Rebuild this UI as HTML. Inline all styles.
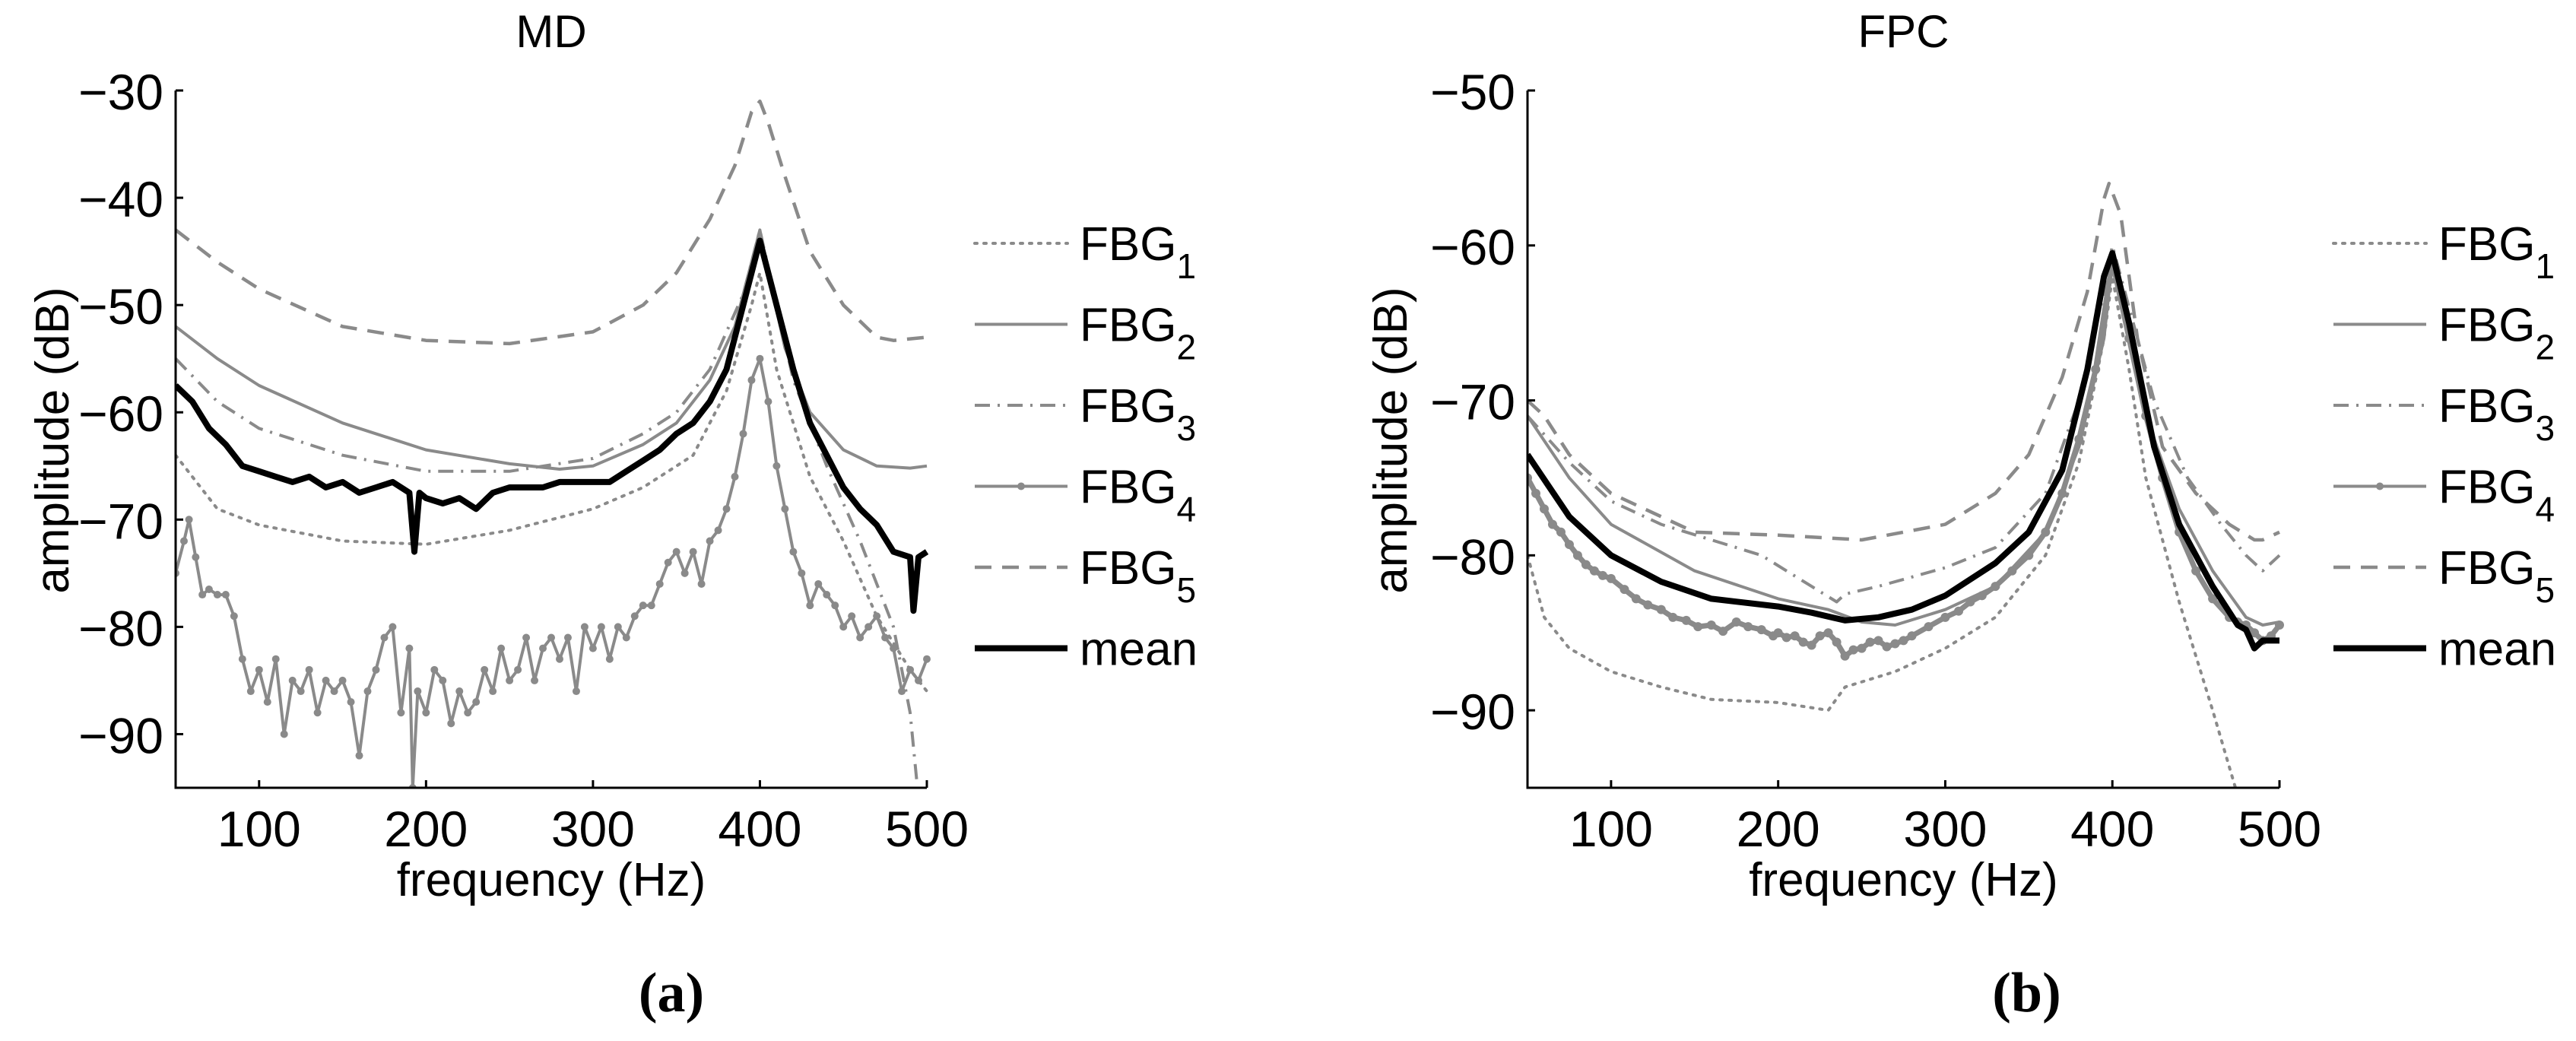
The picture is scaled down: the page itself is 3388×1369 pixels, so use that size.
<!DOCTYPE html>
<html><head><meta charset="utf-8"><style>
body{margin:0;background:#fff}
svg text{font-family:"Liberation Sans",sans-serif}
</style></head><body>
<svg id="fig" width="3388" height="1364" viewBox="0 0 3388 1364" xmlns="http://www.w3.org/2000/svg">
<defs>
<clipPath id="clipA"><rect x="231" y="60" width="1000" height="977"/></clipPath>
<clipPath id="clipB"><rect x="2009" y="60" width="1002" height="977"/></clipPath>
</defs>
</svg>
<script>
// ---------- Panel (a) MD data ----------
const mdF5x=[50,75,100,150,200,250,300,330,350,370,385,395,400,405,415,430,450,470,480,500];
const mdF5y=[-43,-46,-48.5,-52,-53.3,-53.6,-52.5,-50,-47,-42,-37,-32,-31,-33,-38,-45,-50,-53,-53.3,-53];
const mdF2x=[50,75,100,150,200,250,280,300,330,350,370,385,395,400,405,415,430,450,470,490,500];
const mdF2y=[-52,-55,-57.5,-61,-63.5,-64.8,-65.3,-65,-63,-61,-57,-52,-46,-43,-47,-54,-60,-63.5,-65,-65.2,-65];
const mdF3x=[50,75,100,150,200,250,300,330,350,370,390,400,410,420,440,460,480,490,495];
const mdF3y=[-55,-59,-61.5,-64,-65.5,-65.5,-64.3,-62,-60,-56,-49,-43,-50,-57,-65,-72,-80,-88,-96];
const mdF1x=[50,75,100,150,200,250,300,330,360,380,395,400,410,430,450,470,490,500];
const mdF1y=[-64,-69,-70.5,-72,-72.3,-71,-69,-67,-64,-58,-50,-47,-56,-66,-72,-79,-84,-86];
const mdMx=[50,60,70,80,90,100,110,120,130,140,150,160,170,180,190,193,196,200,210,220,230,240,250,260,270,280,290,300,310,320,330,340,350,360,370,380,390,400,410,420,430,440,450,460,470,480,490,492,495,500];
const mdMy=[-57.5,-59,-61.5,-63,-65,-65.5,-66,-66.5,-66,-67,-66.5,-67.5,-67,-66.5,-67.5,-73,-67.5,-68,-68.5,-68,-69,-67.5,-67,-67,-67,-66.5,-66.5,-66.5,-66.5,-65.5,-64.5,-63.5,-62,-61,-59,-56,-50,-44,-50,-56,-61,-64,-67,-69,-70.5,-73,-73.5,-78.5,-73.5,-73];
const mdF4x=[50,55,58,62,66,70,75,80,85,90,95,100,105,110,115,120,125,130,135,140,145,150,155,160,165,170,175,180,185,190,192,195,200,205,210,215,220,225,230,235,240,245,250,255,260,265,270,275,280,285,290,295,300,305,310,315,320,325,330,335,340,345,350,355,360,365,370,375,380,385,390,395,400,405,410,415,420,425,430,435,440,445,450,455,460,465,470,475,480,485,490,495,500];
const mdF4y=[-75,-72,-70,-73.5,-77,-76.5,-77,-77,-79,-83,-86,-84,-87,-83,-90,-85,-86,-84,-88,-85,-86,-85,-87,-92,-86,-84,-81,-80,-88,-82,-95,-86,-88,-84,-85,-89,-86,-88,-87,-84,-86,-82,-85,-84,-81,-85,-82,-81,-83,-81,-86,-80,-82,-80,-83,-80,-81,-79,-78,-78,-76,-74,-73,-75,-73,-76,-72,-71,-69,-66,-62,-57,-55,-59,-65,-69,-73,-75,-78,-76,-77,-78,-80,-79,-81,-80,-79,-81,-82,-86,-84,-85,-83];
// ---------- Panel (b) FPC data ----------
const fpF5x=[50,60,75,100,150,200,250,300,330,350,370,385,395,398,405,415,430,450,470,485,490,500];
const fpF5y=[-70,-71,-73.5,-76,-78.5,-78.7,-79,-78,-76,-73.5,-68.5,-63,-57,-56,-58,-66,-73,-76,-78,-79,-79,-78.5];
const fpF3x=[50,75,100,130,160,190,220,235,240,260,300,330,360,380,395,400,410,425,445,465,480,490,500];
const fpF3y=[-71,-74,-76.5,-78,-79,-80,-82,-83,-82.5,-82,-80.8,-79.5,-76,-70,-63,-60,-64,-70,-75,-78,-80,-81,-80];
const fpF2x=[50,75,100,150,200,230,250,270,300,330,360,380,395,400,410,420,440,460,480,490,500];
const fpF2y=[-71,-75,-78,-81,-82.8,-83.5,-84.3,-84.5,-83.5,-82,-78.5,-73,-66,-61,-65,-71,-77,-81,-84,-84.5,-84.3];
const fpF4x=[50,55,60,65,70,75,80,85,90,95,100,108,115,122,130,137,145,152,160,167,175,182,190,197,200,205,210,215,220,225,230,235,240,245,250,255,260,265,270,275,280,290,300,308,315,322,330,340,350,360,370,380,390,400,410,420,430,440,450,460,470,475,480,485,490,495,500];
const fpF4y=[-75,-76,-77,-78,-78.5,-79.3,-80,-80.6,-81,-81.3,-81.5,-82.2,-82.8,-83.2,-83.5,-84,-84.2,-84.6,-84.5,-84.9,-84.3,-84.6,-84.8,-85.2,-85,-85.3,-85.2,-85.6,-85.8,-85.2,-85,-85.6,-86.5,-86.1,-86,-85.6,-85.5,-85.9,-85.7,-85.5,-85.2,-84.6,-84,-83.6,-83,-82.6,-82,-81,-80,-78.5,-76,-72.5,-68,-61,-66,-71,-75,-78.5,-81,-82.8,-84,-84.3,-84.5,-85,-85.5,-85.2,-84.5];
const fpF1x=[50,60,75,100,130,160,200,230,240,270,300,330,360,380,395,400,410,420,440,460,475];
const fpF1y=[-80,-84,-86,-87.5,-88.5,-89.3,-89.5,-90,-88.5,-87.5,-86,-84,-80,-74,-66,-62,-68,-75,-83,-90,-95.5];
const fpMx=[50,75,100,130,160,200,220,240,260,280,300,330,350,370,385,395,400,410,425,440,460,475,480,485,490,500];
const fpMy=[-73.5,-77.5,-80,-81.7,-82.8,-83.3,-83.7,-84.2,-84,-83.5,-82.6,-80.5,-78.5,-74.5,-68,-62,-60.5,-65,-73,-78,-82,-84.5,-84.8,-86,-85.5,-85.5];
const xTicks=[100,200,300,400,500];
const mdYTicks=[-30,-40,-50,-60,-70,-80,-90];
const fpYTicks=[-50,-60,-70,-80,-90];
const legendLabels=["FBG","FBG","FBG","FBG","FBG","mean"];
const legendSubs=["1","2","3","4","5",""];

const NS="http://www.w3.org/2000/svg";
const svg=document.getElementById('fig');
function mk(tag,attrs,parent){const e=document.createElementNS(NS,tag);for(const k in attrs)e.setAttribute(k,attrs[k]);(parent||svg).appendChild(e);return e;}
const GRAY="#8a8a8a";
const styles=[
 {stroke:GRAY,w:4,dash:"3 9",cap:"round"},
 {stroke:GRAY,w:4,dash:"",cap:"butt"},
 {stroke:GRAY,w:4,dash:"20 10 3 10",cap:"butt"},
 {stroke:GRAY,w:4,dash:"",cap:"butt",marker:true},
 {stroke:GRAY,w:4.5,dash:"22 14",cap:"butt"},
 {stroke:"#000",w:8,dash:"",cap:"butt"}
];
function panel(P){
  const sx=v=>P.x0+(v-50)/450*(P.x1-P.x0);
  const sy=v=>P.y0+(P.ymax-v)/(P.ymax-P.ymin)*(P.y1-P.y0);
  const g=mk('g',{});
  
  
  const t=mk('text',{x:(P.x0+P.x1)/2,y:62,'font-size':60,'text-anchor':'middle'},g);t.textContent=P.title;
  
  const plot=mk('g',{'clip-path':'url(#'+P.clip+')'},g);
  
  P.series.forEach((s,i)=>{
    const st=styles[s.k];
    const d=s.x.map((v,j)=>(j?'L':'M')+sx(v).toFixed(1)+','+sy(s.y[j]).toFixed(1)).join(' ');
    const p=mk('path',{d:d,fill:'none',stroke:st.stroke,'stroke-width':s.w||st.w,'stroke-dasharray':st.dash,'stroke-linecap':st.cap,'stroke-linejoin':'round'},plot);
    
    
    if(st.marker){s.x.forEach((v,j)=>{const c=mk('circle',{cx:sx(v),cy:sy(s.y[j]),r:s.r||5,fill:GRAY},plot);
      
      });}
  });
  const ax=mk('path',{d:`M${P.x0},${P.y0} L${P.x0},${P.y1} L${P.x1},${P.y1}`,fill:'none',stroke:'#000','stroke-width':3},g);
  
  xTicks.forEach(v=>{mk('line',{x1:sx(v),x2:sx(v),y1:P.y1,y2:P.y1-10,stroke:'#000','stroke-width':3},g);
    const l=mk('text',{x:sx(v),y:1113,'font-size':66,'text-anchor':'middle'},g);l.textContent=v;
    });
  P.yt.forEach(v=>{mk('line',{x1:P.x0,x2:P.x0+10,y1:sy(v),y2:sy(v),stroke:'#000','stroke-width':3},g);
    const l=mk('text',{x:P.x0-16,y:sy(v)+25,'font-size':66,'text-anchor':'end'},g);l.textContent='\u2212'+Math.abs(v);
    });
  const xl=mk('text',{x:(P.x0+P.x1)/2,y:1178,'font-size':62,'text-anchor':'middle'},g);xl.textContent='frequency (Hz)';
  
  const yl=mk('text',{x:0,y:0,'font-size':62,'text-anchor':'middle',transform:`translate(${P.ylx},579) rotate(-90)`},g);yl.textContent='amplitude (dB)';
  
  const cap=mk('text',{x:(P.x0+P.x1)/2+P.capdx,y:1330,'font-size':74,'font-weight':'bold','text-anchor':'middle',style:'font-family:"Liberation Serif",serif'},g);cap.textContent=P.cap;
  
  legendLabels.forEach((lab,i)=>{
    const y=320+i*106.5;const st=styles[i];
    const lg=mk('g',{},g);
    
    mk('line',{x1:P.lx,x2:P.lx+122,y1:y,y2:y,stroke:st.stroke,'stroke-width':st.w,'stroke-dasharray':st.dash,'stroke-linecap':st.cap},lg);
    if(st.marker)mk('circle',{cx:P.lx+61,cy:y,r:5,fill:GRAY},lg);
    const tx=mk('text',{x:P.lx+138,y:y+22,'font-size':62},lg);tx.textContent=lab;
    if(legendSubs[i]){const s=mk('tspan',{dy:24,'font-size':46},tx);s.textContent=legendSubs[i];}
  });
}
panel({name:'md',title:'MD',x0:231,x1:1219,y0:119,y1:1036,ymax:-30,ymin:-95,clip:'clipA',yt:mdYTicks,ylx:90,lx:1282,cap:'(a)',capdx:158,
  series:[{n:'fbg5',k:4,x:mdF5x,y:mdF5y},{n:'fbg2',k:1,x:mdF2x,y:mdF2y},{n:'fbg3',k:2,x:mdF3x,y:mdF3y},{n:'fbg1',k:0,x:mdF1x,y:mdF1y},{n:'fbg4',k:3,x:mdF4x,y:mdF4y},{n:'mean',k:5,x:mdMx,y:mdMy}]});
panel({name:'fpc',title:'FPC',x0:2009,x1:2998,y0:119,y1:1036,ymax:-50,ymin:-95,clip:'clipB',yt:fpYTicks,ylx:1850,lx:3069,cap:'(b)',capdx:162,
  series:[{n:'fbg5',k:4,x:fpF5x,y:fpF5y},{n:'fbg3',k:2,x:fpF3x,y:fpF3y},{n:'fbg2',k:1,x:fpF2x,y:fpF2y},{n:'fbg4',k:3,x:fpF4x,y:fpF4y,w:7,r:6},{n:'fbg1',k:0,x:fpF1x,y:fpF1y},{n:'mean',k:5,x:fpMx,y:fpMy}]});
</script>
</body></html>
